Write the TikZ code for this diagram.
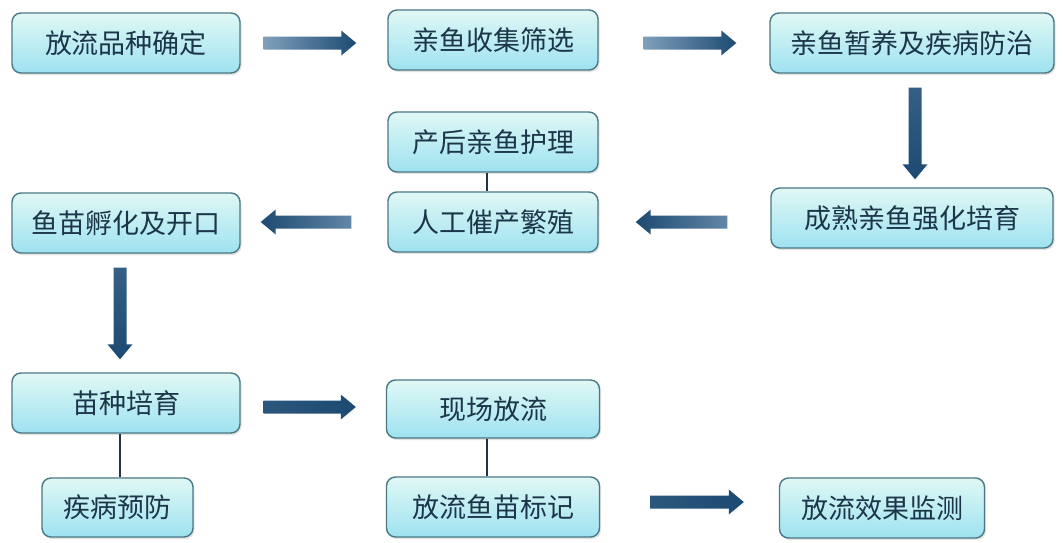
\documentclass[tikz,border=0pt]{standalone}
\usepackage{fontspec}
\newfontfamily\cjk{Noto Sans CJK SC}
\usetikzlibrary{shadows,calc}
\definecolor{boxborder}{HTML}{4A7886}
\definecolor{boxtop}{HTML}{E0F8F5}
\definecolor{boxbot}{HTML}{9EE2F0}
\definecolor{txt}{HTML}{1C3649}
\definecolor{arrdark}{HTML}{1D4A72}
\definecolor{arrlight}{HTML}{7FA0BB}
\definecolor{linkc}{HTML}{1F3440}
% #1 start, #2 end, #3 ux, #4 uy (canvas, y up), #5 shading options
\newcommand\blkarrow[5]{%
  \path[#5] let \p1=(#1), \p2=(#2) in
    ({\x1-6.5pt*(#4)},{\y1+6.5pt*(#3)})
 -- ({\x2-15pt*(#3)-6.5pt*(#4)},{\y2-15pt*(#4)+6.5pt*(#3)})
 -- ({\x2-15pt*(#3)-12.5pt*(#4)},{\y2-15pt*(#4)+12.5pt*(#3)})
 -- (\x2,\y2)
 -- ({\x2-15pt*(#3)+12.5pt*(#4)},{\y2-15pt*(#4)-12.5pt*(#3)})
 -- ({\x2-15pt*(#3)+6.5pt*(#4)},{\y2-15pt*(#4)-6.5pt*(#3)})
 -- ({\x1+6.5pt*(#4)},{\y1-6.5pt*(#3)}) -- cycle;}
\begin{document}
\begin{tikzpicture}[x=1pt,y=-1pt,
  box/.style={draw=boxborder, line width=1.4pt, rounded corners=9pt,
    top color=boxtop, bottom color=boxbot, minimum height=60pt,
    font=\cjk\fontsize{27}{27}\selectfont, text=txt, inner sep=0pt,
    drop shadow={shadow xshift=1.5pt, shadow yshift=-2pt, opacity=0.22}},
  link/.style={draw=linkc, line width=1.5pt},
  grad/.style={left color=arrlight, right color=arrdark},
  gradL/.style={left color=arrdark, right color=arrlight!70!arrdark},
  gradV/.style={top color=arrdark!75!arrlight, bottom color=arrdark},
  dark/.style={left color=arrdark!85!arrlight, right color=arrdark}]
\useasboundingbox[fill=white] (0,0) rectangle (1063,542);

\node[box, minimum width=228pt] (n1) at (126,43) {放流品种确定};
\node[box, minimum width=210pt] (n2) at (493,40) {亲鱼收集筛选};
\node[box, minimum width=284pt] (n3) at (912,43) {亲鱼暂养及疾病防治};
\node[box, minimum width=282pt] (n4) at (912,218) {成熟亲鱼强化培育};
\node[box, minimum width=210pt] (n5) at (493,142) {产后亲鱼护理};
\node[box, minimum width=210pt] (n6) at (493,222) {人工催产繁殖};
\node[box, minimum width=228pt] (n7) at (126,223) {鱼苗孵化及开口};
\node[box, minimum width=228pt] (n8) at (126,403) {苗种培育};
\node[box, minimum width=151pt, minimum height=59pt] (n9) at (117.5,507.5) {疾病预防};
\node[box, minimum width=213pt, minimum height=58pt] (n10) at (493,409) {现场放流};
\node[box, minimum width=213pt] (n11) at (493,507) {放流鱼苗标记};
\node[box, minimum width=205pt] (n12) at (882,508) {放流效果监测};

% plain links
\coordinate (c56) at ($(n5.south)+(-6,0)$);
\draw[link] (c56) -- (c56 |- n6.north);
\coordinate (c89) at ($(n8.south)+(-6,0)$);
\draw[link] (c89) -- (c89 |- n9.north);
\coordinate (c1011) at ($(n10.south)+(-6,0)$);
\draw[link] (c1011) -- (c1011 |- n11.north);

% block arrows
\coordinate (a1s) at ($(n1.east)+(23,0)$);
\coordinate (a1e) at ($(n2.west)+(-31,3)$);
\blkarrow{a1s}{a1e}{1}{0}{grad}
\coordinate (a2s) at ($(n2.east)+(45,3)$);
\coordinate (a2e) at ($(n3.west)+(-33,0)$);
\blkarrow{a2s}{a2e}{1}{0}{grad}
\coordinate (a3s) at ($(n3.south)+(3,14)$);
\coordinate (a3e) at ($(n4.north)+(3,-8)$);
\blkarrow{a3s}{a3e}{0}{-1}{gradV}
\coordinate (a4s) at ($(n4.west)+(-43,4)$);
\coordinate (a4e) at ($(n6.east)+(37,0)$);
\blkarrow{a4s}{a4e}{-1}{0}{gradL}
\coordinate (a5s) at ($(n6.west)+(-36,0)$);
\coordinate (a5e) at ($(n7.east)+(20,-1)$);
\blkarrow{a5s}{a5e}{-1}{0}{gradL}
\coordinate (a6s) at ($(n7.south)+(-6,14)$);
\coordinate (a6e) at ($(n8.north)+(-6,-13)$);
\blkarrow{a6s}{a6e}{0}{-1}{gradV}
\coordinate (a7s) at ($(n8.east)+(23,4)$);
\coordinate (a7e) at ($(n10.west)+(-30,-2)$);
\blkarrow{a7s}{a7e}{1}{0}{dark}
\coordinate (a8s) at ($(n11.east)+(50,-5)$);
\coordinate (a8e) at ($(n12.west)+(-35,-6)$);
\blkarrow{a8s}{a8e}{1}{0}{dark}
\end{tikzpicture}
\end{document}
